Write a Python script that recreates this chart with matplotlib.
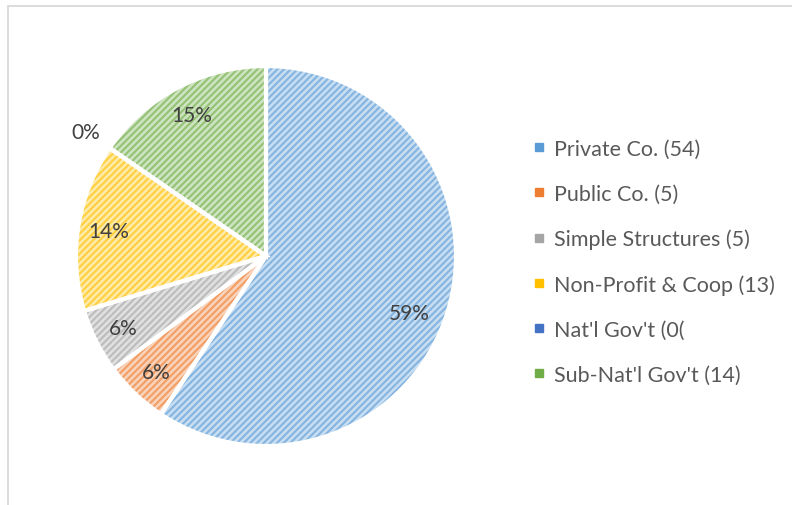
import matplotlib.pyplot as plt
import matplotlib.colors as mcolors
from matplotlib.lines import Line2D
from matplotlib.patches import Rectangle
import numpy as np

plt.rcParams['font.family'] = ['Lato', 'DejaVu Sans']

# data
categories = ["Private Co. (54)", "Public Co. (5)", "Simple Structures (5)",
              "Non-Profit & Coop (13)", "Nat'l Gov't (0(", "Sub-Nat'l Gov't (14)"]
counts = [54, 5, 5, 13, 0, 14]
pct_labels = ["59%", "6%", "6%", "14%", "0%", "15%"]
colors = ["#5B9BD5", "#ED7D31", "#A5A5A5", "#FFC000", "#4472C4", "#70AD47"]


def tint(c, amount):
    rgb = np.array(mcolors.to_rgb(c))
    return tuple(rgb + (1 - rgb) * amount)


W, H = 792, 506
fig = plt.figure(figsize=(W / 100, H / 100), dpi=100)

# frame of the chart area (light grey, open to the right/bottom)
fig.add_artist(Rectangle((7.5 / W, -0.1), 1.2, (H - 6.5) / H + 0.1,
                         transform=fig.transFigure, fill=False,
                         edgecolor="#D9D9D9", linewidth=1.3))

cx, cy, r = 266, 257, 190
ax = fig.add_axes([(cx - r) / W, (H - cy - r) / H, 2 * r / W, 2 * r / H])

plt.rcParams['hatch.linewidth'] = 1.5

# hatched fill
wedges, _ = ax.pie(counts, startangle=90, counterclock=False, radius=1,
                   colors=[tint(c, 0.66) for c in colors],
                   wedgeprops=dict(linewidth=0))
for w, c in zip(wedges, colors):
    w.set_edgecolor(tint(c, 0.25))
    w.set_hatch("/////")
    w.set_linewidth(0)

# white separators
ax.pie(counts, startangle=90, counterclock=False, radius=1,
       colors=["none"] * len(counts),
       wedgeprops=dict(linewidth=3, edgecolor="white", fill=False))

ax.set_xlim(-1, 1)
ax.set_ylim(-1, 1)
ax.set_aspect("equal")
ax.axis("off")

# percentage labels
for w, n, lab in zip(wedges, counts, pct_labels):
    ang = np.deg2rad((w.theta1 + w.theta2) / 2)
    d = 0.84 if n > 0 else 1.15
    if n == max(counts):
        ang -= np.deg2rad(5)
        d = 0.81
    ax.text(d * np.cos(ang), d * np.sin(ang), lab, clip_on=False,
            ha="center", va="center", fontsize=15, color="#404040")

# legend
handles = [Line2D([0], [0], marker="s", linestyle="none", markersize=5.5,
                  markerfacecolor=c, markeredgecolor=c) for c in colors]
leg = fig.legend(handles, categories, loc="upper left",
                 bbox_to_anchor=(523 / W, 1 - 129 / H), frameon=False,
                 fontsize=15.5, labelspacing=1.16, handlelength=0.5,
                 handletextpad=0.45, borderpad=0)
for t in leg.get_texts():
    t.set_color("#595959")

fig.savefig("out.png", dpi=100)
